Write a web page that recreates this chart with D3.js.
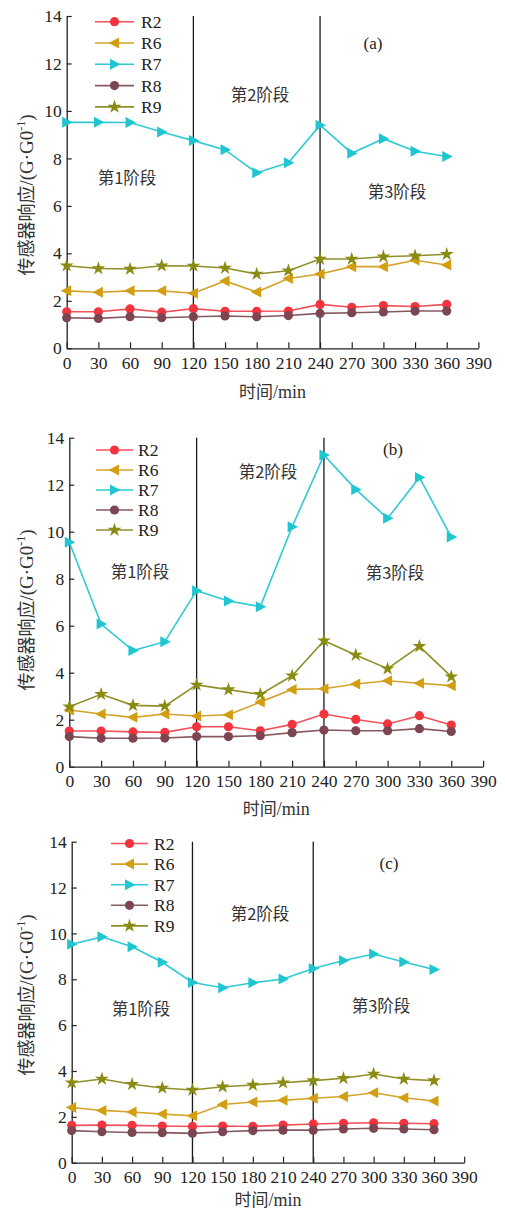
<!DOCTYPE html>
<html>
<head>
<meta charset="utf-8">
<script src="https://cdn.jsdelivr.net/npm/d3@7"></script>
<style>
  html, body { margin: 0; padding: 0; background: #fff; }
  svg { display: block; }
  .tick text { font-family: "Liberation Serif", "DejaVu Serif", serif; }
</style>
</head>
<body>
<svg id="chart" width="505" height="1211"></svg>
<script>
// Sampling times (min) and axis ticks
const times = [0, 30, 60, 90, 120, 150, 180, 210, 240, 270, 300, 330, 360];
const xTicks = [0, 30, 60, 90, 120, 150, 180, 210, 240, 270, 300, 330, 360, 390];
const yTicks = [0, 2, 4, 6, 8, 10, 12, 14];
const stageBounds = [120, 240];
const sensorNames = ["R2", "R6", "R7", "R8", "R9"];
const stageNames = ["第1阶段", "第2阶段", "第3阶段"];
const panelNames = ["(a)", "(b)", "(c)"];

// Panel (a) sensor responses G/G0
const aR2 = [1.54, 1.54, 1.66, 1.52, 1.67, 1.56, 1.56, 1.57, 1.85, 1.73, 1.80, 1.76, 1.85];
const aR6 = [2.42, 2.36, 2.42, 2.42, 2.32, 2.84, 2.37, 2.94, 3.13, 3.44, 3.44, 3.71, 3.51];
const aR7 = [9.52, 9.52, 9.51, 9.11, 8.75, 8.36, 7.40, 7.82, 9.40, 8.22, 8.83, 8.30, 8.08];
const aR8 = [1.29, 1.26, 1.33, 1.29, 1.33, 1.36, 1.33, 1.38, 1.47, 1.50, 1.53, 1.57, 1.57];
const aR9 = [3.48, 3.36, 3.34, 3.48, 3.47, 3.38, 3.13, 3.27, 3.76, 3.76, 3.86, 3.90, 3.96];

// Panel (b)
const bR2 = [1.52, 1.52, 1.48, 1.46, 1.70, 1.70, 1.53, 1.80, 2.24, 2.01, 1.82, 2.17, 1.77];
const bR6 = [2.41, 2.24, 2.10, 2.24, 2.16, 2.21, 2.75, 3.29, 3.32, 3.52, 3.66, 3.55, 3.45];
const bR7 = [9.55, 6.07, 4.94, 5.32, 7.49, 7.05, 6.81, 10.21, 13.26, 11.80, 10.57, 12.31, 9.77];
const bR8 = [1.28, 1.21, 1.21, 1.22, 1.28, 1.28, 1.32, 1.45, 1.56, 1.53, 1.53, 1.62, 1.50];
const bR9 = [2.55, 3.08, 2.61, 2.58, 3.48, 3.28, 3.08, 3.87, 5.36, 4.75, 4.17, 5.12, 3.83];

// Panel (c)
const cR2 = [1.63, 1.64, 1.63, 1.60, 1.58, 1.60, 1.58, 1.64, 1.69, 1.72, 1.74, 1.72, 1.70];
const cR6 = [2.41, 2.28, 2.21, 2.12, 2.05, 2.54, 2.65, 2.72, 2.81, 2.89, 3.05, 2.83, 2.69];
const cR7 = [9.53, 9.85, 9.42, 8.74, 7.86, 7.63, 7.85, 8.01, 8.47, 8.82, 9.10, 8.75, 8.43];
const cR8 = [1.40, 1.35, 1.32, 1.31, 1.28, 1.35, 1.40, 1.42, 1.42, 1.47, 1.50, 1.47, 1.44];
const cR9 = [3.49, 3.65, 3.42, 3.26, 3.17, 3.31, 3.39, 3.49, 3.58, 3.68, 3.87, 3.65, 3.58];

const panelData = [
  [aR2, aR6, aR7, aR8, aR9],
  [bR2, bR6, bR7, bR8, bR9],
  [cR2, cR6, cR7, cR8, cR9]
];

// Per-sensor styling
const colors = { R2: "#f2343e", R6: "#d39e12", R7: "#1fc6d0", R8: "#7b4651", R9: "#8a8b12" };
const lineColors = { R2: "#f4505a", R6: "#d4a42a", R7: "#2fcad3", R8: "#86585f", R9: "#8f902a" };
const shapes = { R2: "circle", R6: "triLeft", R7: "triRight", R8: "circle", R9: "star" };

// Panel frames
const frames = [
  { left: 66.7, right: 478.4, top: 16, bottom: 348.3, xlabGap: 44,
    legend: { x1: 95, x2: 134, tx: 141, y0: 21.7, dy: 21.3 },
    tag: [373, 43], stages: [[127, 178], [260, 95], [397, 192]], ylabY: 195 },
  { left: 69.3, right: 483.1, top: 437.7, bottom: 766.7, xlabGap: 42,
    legend: { x1: 96, x2: 133, tx: 138, y0: 450, dy: 20 },
    tag: [393, 449], stages: [[140, 572], [268, 472], [395, 573]], ylabY: 610 },
  { left: 71.7, right: 464.2, top: 841.7, bottom: 1162.7, xlabGap: 37,
    legend: { x1: 111, x2: 148, tx: 154, y0: 843.5, dy: 20.6 },
    tag: [389, 863], stages: [[141, 1009], [260, 914], [381, 1006]], ylabY: 995 }
];

const svg = d3.select("#chart");
const serif = '"Liberation Serif", "DejaVu Serif", serif';
const cjk = '"Noto Sans CJK SC", "Noto Sans CJK JP", sans-serif';

function drawMarker(g, shape, cx, cy, color) {
  if (shape === "circle") {
    g.append("circle").attr("cx", cx).attr("cy", cy).attr("r", 4.6).attr("fill", color);
  } else if (shape === "triLeft") {
    g.append("path").attr("d", `M${cx - 6},${cy}L${cx + 4.5},${cy - 5.5}L${cx + 4.5},${cy + 5.5}Z`).attr("fill", color);
  } else if (shape === "triRight") {
    g.append("path").attr("d", `M${cx + 6},${cy}L${cx - 4.5},${cy - 5.5}L${cx - 4.5},${cy + 5.5}Z`).attr("fill", color);
  } else {
    g.append("path").attr("d", d3.symbol().type(d3.symbolStar).size(60)())
      .attr("transform", `translate(${cx},${cy})`).attr("fill", color);
  }
}

frames.forEach((f, pi) => {
  const x = d3.scaleLinear().domain([0, 390]).range([f.left, f.right]);
  const y = d3.scaleLinear().domain([0, 14]).range([f.bottom, f.top]);
  const g = svg.append("g");

  // stage boundaries
  stageBounds.forEach(t => {
    g.append("line").attr("x1", x(t)).attr("x2", x(t))
      .attr("y1", y(0)).attr("y2", y(14))
      .attr("stroke", "#1a1a1a").attr("stroke-width", 1.3);
  });

  // axes with inward ticks
  const xAxis = g.append("g").attr("transform", `translate(0,${f.bottom})`)
    .call(d3.axisBottom(x).tickValues(xTicks).tickSizeInner(-6).tickSizeOuter(0).tickPadding(8).tickFormat(d3.format("d")));
  const yAxis = g.append("g").attr("transform", `translate(${f.left},0)`)
    .call(d3.axisLeft(y).tickValues(yTicks).tickSizeInner(-5).tickSizeOuter(0).tickPadding(5).tickFormat(d3.format("d")));
  [xAxis, yAxis].forEach(ax => {
    ax.select(".domain").attr("stroke", "#222").attr("stroke-width", 1.3);
    ax.selectAll(".tick line").attr("stroke", "#222").attr("stroke-width", 1.2);
    ax.selectAll(".tick text").attr("fill", "#222").style("font-size", "17.5px").style("font-family", serif);
  });

  // series
  const line = d3.line().x((d, i) => x(times[i])).y(d => y(d));
  panelData[pi].forEach((vals, si) => {
    const name = sensorNames[si];
    const sg = g.append("g");
    sg.append("path").attr("d", line(vals)).attr("fill", "none")
      .attr("stroke", lineColors[name]).attr("stroke-width", 1.6);
    vals.forEach((v, i) => drawMarker(sg, shapes[name], x(times[i]), y(v), colors[name]));
  });

  // legend
  sensorNames.forEach((name, i) => {
    const ly = f.legend.y0 + i * f.legend.dy;
    const lg = g.append("g");
    lg.append("line").attr("x1", f.legend.x1).attr("x2", f.legend.x2)
      .attr("y1", ly).attr("y2", ly).attr("stroke", lineColors[name]).attr("stroke-width", 1.6);
    drawMarker(lg, shapes[name], (f.legend.x1 + f.legend.x2) / 2, ly, colors[name]);
    lg.append("text").attr("x", f.legend.tx).attr("y", ly).attr("dy", "0.35em")
      .attr("font-family", serif).attr("font-size", 17.5).attr("fill", "#222").text(name);
  });

  // panel tag
  g.append("text").attr("x", f.tag[0]).attr("y", f.tag[1]).attr("dy", "0.35em")
    .attr("text-anchor", "middle").attr("font-family", serif).attr("font-size", 17).attr("fill", "#222")
    .text(panelNames[pi]);

  // stage labels
  stageNames.forEach((s, i) => {
    g.append("text").attr("x", f.stages[i][0]).attr("y", f.stages[i][1]).attr("dy", "0.35em")
      .attr("text-anchor", "middle").attr("font-family", cjk).attr("font-size", 16.5).attr("fill", "#333")
      .text(s);
  });

  // x-axis title
  const xt = g.append("text").attr("x", (f.left + f.right) / 2).attr("y", f.bottom + f.xlabGap).attr("dy", "0.35em")
    .attr("text-anchor", "middle").attr("fill", "#333").attr("font-size", 17);
  xt.append("tspan").attr("font-family", cjk).text("时间");
  xt.append("tspan").attr("font-family", serif).attr("font-size", 18).text("/min");

  // y-axis title
  const yt = g.append("text").attr("transform", `translate(27,${f.ylabY}) rotate(-90)`)
    .attr("text-anchor", "middle").attr("dy", "0.35em").attr("fill", "#333").attr("font-size", 18);
  yt.append("tspan").attr("font-family", cjk).text("传感器响应");
  yt.append("tspan").attr("font-family", serif).attr("font-size", 19).text("/(G·G0");
  yt.append("tspan").attr("font-family", serif).attr("font-size", 12).attr("dy", "-0.7em").text("-1");
  yt.append("tspan").attr("font-family", serif).attr("font-size", 19).attr("dy", "0.45em").text(")");
});
</script>
</body>
</html>
